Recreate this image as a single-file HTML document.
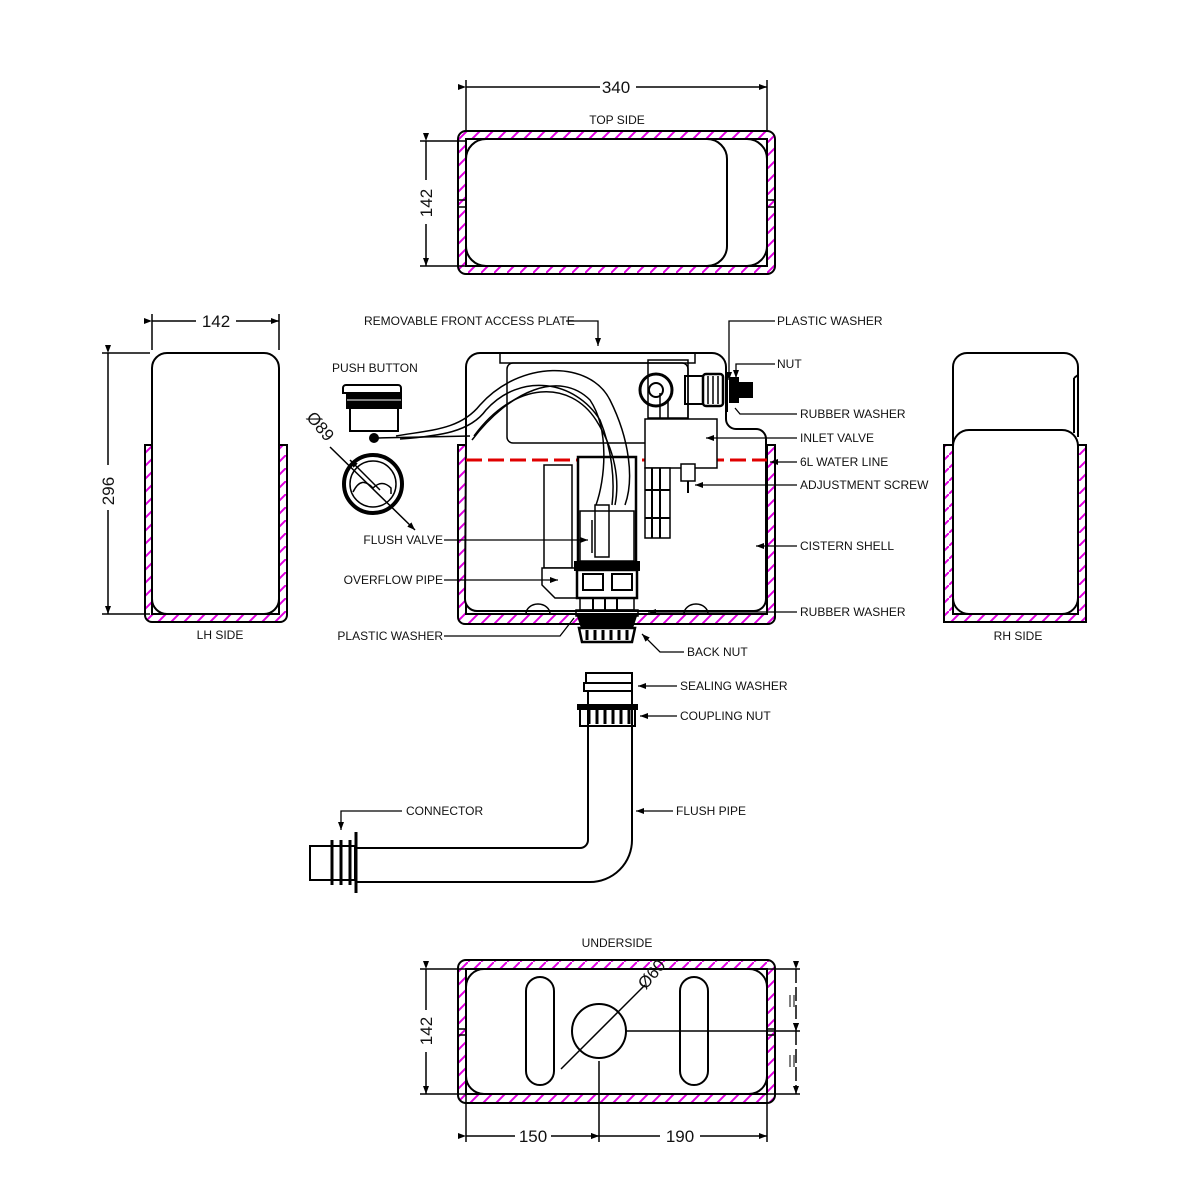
<!DOCTYPE html>
<html><head><meta charset="utf-8"><style>
html,body{margin:0;padding:0;background:#fff}
svg{display:block}
text{font-family:"Liberation Sans",sans-serif;fill:#111}
.l{font-size:12px}
.d{font-size:17px}
</style></head><body>
<svg width="1200" height="1200" viewBox="0 0 1200 1200" xmlns="http://www.w3.org/2000/svg">
<defs>
<pattern id="h" width="13" height="13" patternUnits="userSpaceOnUse">
<path d="M-2,15 L15,-2" stroke="#e000e0" stroke-width="2"/>
</pattern>
<marker id="a" markerWidth="8" markerHeight="6" refX="8" refY="3" orient="auto" markerUnits="userSpaceOnUse"><path d="M0,0 L8,3 L0,6z" fill="#000"/></marker>
</defs>
<g fill="none" stroke="#000" stroke-width="2">

<!-- TOP SIDE -->
<line x1="466" y1="80" x2="466" y2="131" stroke-width="1.5"/>
<line x1="767" y1="80" x2="767" y2="131" stroke-width="1.5"/>
<line x1="466" y1="87" x2="600" y2="87" stroke-width="1.5" marker-start="url(#a)"/>
<line x1="636" y1="87" x2="767" y2="87" stroke-width="1.5" marker-end="url(#a)"/>
<rect x="458" y="131" width="317" height="143" rx="8" fill="url(#h)"/>
<rect x="466" y="139" width="301" height="127" fill="#fff"/>
<path d="M458,200 h8 M458,207 h8 M767,200 h8 M767,207 h8" stroke-width="1.5"/>
<rect x="466" y="139" width="261" height="127" rx="20" fill="#fff"/>
<path d="M727,139 h20 a20,20 0 0 1 20,20 v87 a20,20 0 0 1 -20,20 h-20"/>
<line x1="420" y1="141" x2="466" y2="141" stroke-width="1.5"/>
<line x1="420" y1="266" x2="466" y2="266" stroke-width="1.5"/>
<line x1="426" y1="141" x2="426" y2="180" stroke-width="1.5" marker-start="url(#a)"/>
<line x1="426" y1="224" x2="426" y2="266" stroke-width="1.5" marker-end="url(#a)"/>

<!-- LH SIDE -->
<line x1="152" y1="314" x2="152" y2="350" stroke-width="1.5"/>
<line x1="279" y1="314" x2="279" y2="350" stroke-width="1.5"/>
<line x1="152" y1="321" x2="196" y2="321" stroke-width="1.5" marker-start="url(#a)"/>
<line x1="236" y1="321" x2="279" y2="321" stroke-width="1.5" marker-end="url(#a)"/>
<line x1="102" y1="353" x2="150" y2="353" stroke-width="1.5"/>
<line x1="102" y1="614" x2="150" y2="614" stroke-width="1.5"/>
<line x1="108" y1="353" x2="108" y2="465" stroke-width="1.5" marker-start="url(#a)"/>
<line x1="108" y1="510" x2="108" y2="614" stroke-width="1.5" marker-end="url(#a)"/>
<path d="M145,445 h7 v169 h127 v-169 h8 v170 a7,7 0 0 1 -7,7 h-128 a7,7 0 0 1 -7,-7z" fill="url(#h)"/>
<rect x="152" y="353" width="127" height="261" rx="15" fill="#fff"/>

<!-- RH SIDE -->
<path d="M944,445 h9 v169 h125 v-169 h8 v177 h-142z" fill="url(#h)"/>
<path d="M953,445 v-78 a14,14 0 0 1 14,-14 h97 a14,14 0 0 1 14,14 v70" fill="#fff"/>
<path d="M1074,378 v55 M1078,375 l-4,3"/>
<rect x="953" y="430" width="125" height="184" rx="16" fill="#fff"/>

<!-- MAIN CISTERN -->
<path d="M458,445 h8 v169 h301 v-169 h8 v172 a7,7 0 0 1 -7,7 h-303 a7,7 0 0 1 -7,-7z" fill="url(#h)"/>
<path d="M466,445 v-78 a14,14 0 0 1 14,-14 h232 a14,14 0 0 1 14,14 v52 a10,10 0 0 0 10,10 h20 a10,10 0 0 1 10,10 v160 a12,12 0 0 1 -12,12 h-277 a12,12 0 0 1 -12,-12z" fill="#fff"/>
<path d="M526,614 a12,10 0 0 1 24,0 M684,614 a12,10 0 0 1 24,0" stroke-width="1.5"/>
<rect x="500" y="353" width="195" height="10" stroke-width="1.5"/>
<rect x="507" y="363" width="181" height="80" rx="6" stroke-width="1.5"/>
<line x1="466" y1="460" x2="767" y2="460" stroke="#e00000" stroke-width="3" stroke-dasharray="16,6"/>
<rect x="544" y="465" width="28" height="103" fill="#fff" stroke-width="1.5"/>
<path d="M542,568 h35 v30 h-22 l-13,-13z" fill="#fff" stroke-width="1.5"/>
<rect x="578" y="457" width="58" height="105" fill="#fff" stroke-width="2.5"/>
<rect x="580" y="511" width="54" height="50" stroke-width="1.5"/>
<rect x="595" y="505" width="14" height="52" stroke-width="1.5"/>
<line x1="592" y1="520" x2="592" y2="553" stroke-width="1.5"/>
<rect x="575" y="562" width="64" height="8" fill="#000"/>
<rect x="577" y="570" width="60" height="28" stroke-width="2.5"/>
<rect x="583" y="574" width="20" height="16" stroke-width="2"/>
<rect x="612" y="574" width="20" height="16" stroke-width="2"/>
<rect x="580" y="598" width="54" height="12" stroke-width="1.5"/>
<path d="M593,598 v12 M605,598 v12 M617,598 v12"/>
<rect x="576" y="610" width="62" height="6" stroke-width="1.5"/>
<path d="M578,616 h58 l-4,12 h-50z" fill="#000"/>
<path d="M579,628 h56 l-3,14 h-50z" fill="#fff" stroke-width="2.5"/>
<path d="M587,630 v10 M595,630 v10 M603,630 v10 M611,630 v10 M619,630 v10 M627,630 v10" stroke-width="3"/>
<path d="M396,436 C430,430 460,430 480,405 C520,360 590,360 610,400 C630,440 634,480 625,505" stroke-width="1.5"/>
<path d="M400,439 C440,436 470,432 486,410 C520,372 575,380 600,420 C612,450 615,480 612,505" stroke-width="1.5"/>
<path d="M472,440 C510,390 560,370 590,400 C610,430 605,480 596,505" stroke-width="1.5"/>
<path d="M474,436 C515,380 570,380 596,420 C615,450 620,480 615,505" stroke-width="1.5"/>
<rect x="645" y="419" width="72" height="49" fill="#fff" stroke-width="1.5"/>
<rect x="645" y="468" width="25" height="70" fill="#fff" stroke-width="1.5"/>
<path d="M652,468 v70 M660,468 v70 M645,490 h25 M645,518 h25"/>
<rect x="681" y="464" width="14" height="17" fill="#fff" stroke-width="1.5"/>
<line x1="688" y1="481" x2="688" y2="493" stroke-width="2"/>
<rect x="648" y="360" width="40" height="58" stroke-width="1.5"/>
<circle cx="656" cy="390" r="16" stroke-width="3"/>
<circle cx="656" cy="390" r="7" fill="#fff" stroke-width="2"/>
<path d="M660,393 v25 M668,400 v18" stroke-width="1.5"/>
<rect x="685" y="376" width="18" height="28" stroke-width="2"/>
<rect x="703" y="374" width="20" height="32" rx="3" stroke-width="2.5"/>
<path d="M708,376 v28 M713,376 v28 M718,376 v28" stroke-width="1.5"/>
<rect x="730" y="378" width="8" height="24" fill="#000"/>
<rect x="738" y="383" width="14" height="14" fill="#000"/>
<line x1="727" y1="372" x2="727" y2="412" stroke-width="2"/>

<!-- push button -->
<path d="M343,393 v-5 a3,3 0 0 1 3,-3 h52 a3,3 0 0 1 3,3 v5z" fill="#fff" stroke-width="2"/>
<rect x="347" y="393" width="54" height="15" fill="#000"/>
<line x1="347" y1="400" x2="401" y2="400" stroke="#fff" stroke-width="1"/>
<rect x="350" y="408" width="48" height="23" fill="#fff" stroke-width="2"/>
<circle cx="374" cy="438" r="5" fill="#000" stroke="none"/>
<path d="M378,438 L470,436" stroke-width="1.5"/>
<circle cx="373" cy="484" r="29" stroke-width="4"/>
<circle cx="373" cy="484" r="23" stroke-width="1.5"/>
<path d="M353,492 c6,-12 12,-12 20,-4 c6,-6 12,-6 18,0 v6" stroke-width="1.5"/>
<line x1="330" y1="447" x2="415" y2="530" stroke-width="1.5" marker-end="url(#a)"/>
<line x1="380" y1="490" x2="350" y2="460" stroke-width="1.5" marker-end="url(#a)"/>

<!-- flush pipe -->
<path d="M588,707 V840 a8,8 0 0 1 -8,8 H355" stroke-width="2"/>
<path d="M632,707 V840 a42,42 0 0 1 -42,42 H355" stroke-width="2"/>
<rect x="310" y="846" width="45" height="34" fill="#fff" stroke-width="2"/>
<path d="M332,840 v45 M341,840 v45 M350,840 v45" stroke-width="3"/>
<line x1="356" y1="832" x2="356" y2="893" stroke-width="3"/>
<rect x="586" y="673" width="46" height="10" stroke-width="2"/>
<path d="M584,683 h48 v8 h-48z" stroke-width="2"/>
<line x1="588" y1="691" x2="588" y2="705"/><line x1="632" y1="691" x2="632" y2="705"/>
<rect x="578" y="705" width="59" height="4" fill="#000"/>
<rect x="580" y="709" width="55" height="17" stroke-width="2"/>
<path d="M589,709 v15 M597,709 v15 M605,709 v15 M613,709 v15 M621,709 v15 M629,709 v15" stroke-width="3"/>

<!-- UNDERSIDE -->
<rect x="458" y="960" width="317" height="143" rx="8" fill="url(#h)"/>
<rect x="466" y="969" width="301" height="125" fill="#fff"/>
<path d="M458,1029 h8 M458,1035 h8 M767,1029 h8 M767,1035 h8" stroke-width="1.5"/>
<rect x="466" y="969" width="301" height="125" rx="18" fill="#fff"/>
<rect x="526" y="977" width="28" height="108" rx="14"/>
<rect x="680" y="977" width="28" height="108" rx="14"/>
<circle cx="599" cy="1031" r="27"/>
<line x1="561" y1="1069" x2="645" y2="985" stroke-width="1.5"/>
<line x1="626" y1="1031" x2="800" y2="1031" stroke-width="1.5"/>
<line x1="599" y1="1061" x2="599" y2="1142" stroke-width="1.5"/>
<line x1="466" y1="1094" x2="466" y2="1142" stroke-width="1.5"/>
<line x1="767" y1="1094" x2="767" y2="1142" stroke-width="1.5"/>
<line x1="466" y1="1136" x2="515" y2="1136" stroke-width="1.5" marker-start="url(#a)"/>
<line x1="551" y1="1136" x2="599" y2="1136" stroke-width="1.5" marker-end="url(#a)"/>
<line x1="599" y1="1136" x2="660" y2="1136" stroke-width="1.5" marker-start="url(#a)"/>
<line x1="700" y1="1136" x2="767" y2="1136" stroke-width="1.5" marker-end="url(#a)"/>
<line x1="420" y1="969" x2="466" y2="969" stroke-width="1.5"/>
<line x1="420" y1="1094" x2="466" y2="1094" stroke-width="1.5"/>
<line x1="426" y1="969" x2="426" y2="1010" stroke-width="1.5" marker-start="url(#a)"/>
<line x1="426" y1="1052" x2="426" y2="1094" stroke-width="1.5" marker-end="url(#a)"/>
<line x1="767" y1="969" x2="800" y2="969" stroke-width="1.5"/>
<line x1="767" y1="1094" x2="800" y2="1094" stroke-width="1.5"/>
<line x1="796" y1="969" x2="796" y2="1031" stroke-width="1.5" stroke-dasharray="14,4" marker-start="url(#a)" marker-end="url(#a)"/>
<line x1="796" y1="1031" x2="796" y2="1094" stroke-width="1.5" stroke-dasharray="14,4" marker-start="url(#a)" marker-end="url(#a)"/>
<path d="M790,995 v12 M794,995 v12 M790,1055 v12 M794,1055 v12" stroke-width="1"/>

<!-- leaders -->
<g stroke-width="1.3">
<path d="M566,321 H598 V346" marker-end="url(#a)"/>
<path d="M775,321 H729 V380" marker-end="url(#a)"/>
<path d="M775,364 H736 V378" marker-end="url(#a)"/>
<path d="M797,414 H740 L735,408"/>
<path d="M797,438 H706" marker-end="url(#a)"/>
<path d="M797,462 H770" marker-end="url(#a)"/>
<path d="M797,485 H695" marker-end="url(#a)"/>
<path d="M797,546 H756" marker-end="url(#a)"/>
<path d="M797,612 H648" marker-end="url(#a)"/>
<path d="M444,540 H588" marker-end="url(#a)"/>
<path d="M444,580 H558" marker-end="url(#a)"/>
<path d="M444,636 H560 L574,618"/>
<path d="M684,652 H660 L642,634" marker-end="url(#a)"/>
<path d="M677,686 H638" marker-end="url(#a)"/>
<path d="M677,716 H640" marker-end="url(#a)"/>
<path d="M673,811 H636" marker-end="url(#a)"/>
<path d="M402,811 H341 V830" marker-end="url(#a)"/>
</g>
</g>

<text class="d" x="616" y="93" text-anchor="middle">340</text>
<text class="l" x="617" y="124" text-anchor="middle">TOP SIDE</text>
<text class="d" transform="translate(432,203) rotate(-90)" text-anchor="middle">142</text>
<text class="d" x="216" y="327" text-anchor="middle">142</text>
<text class="d" transform="translate(114,491) rotate(-90)" text-anchor="middle">296</text>
<text class="l" x="220" y="639" text-anchor="middle">LH SIDE</text>
<text class="l" x="1018" y="640" text-anchor="middle">RH SIDE</text>
<text class="l" x="364" y="325">REMOVABLE FRONT ACCESS PLATE</text>
<text class="l" x="332" y="372">PUSH BUTTON</text>
<text class="d" transform="translate(316,430) rotate(50)" text-anchor="middle">Ø89</text>
<text class="l" x="777" y="325">PLASTIC WASHER</text>
<text class="l" x="777" y="368">NUT</text>
<text class="l" x="800" y="418">RUBBER WASHER</text>
<text class="l" x="800" y="442">INLET VALVE</text>
<text class="l" x="800" y="466">6L WATER LINE</text>
<text class="l" x="800" y="489">ADJUSTMENT SCREW</text>
<text class="l" x="800" y="550">CISTERN SHELL</text>
<text class="l" x="800" y="616">RUBBER WASHER</text>
<text class="l" x="443" y="544" text-anchor="end">FLUSH VALVE</text>
<text class="l" x="443" y="584" text-anchor="end">OVERFLOW PIPE</text>
<text class="l" x="443" y="640" text-anchor="end">PLASTIC WASHER</text>
<text class="l" x="687" y="656">BACK NUT</text>
<text class="l" x="680" y="690">SEALING WASHER</text>
<text class="l" x="680" y="720">COUPLING NUT</text>
<text class="l" x="676" y="815">FLUSH PIPE</text>
<text class="l" x="406" y="815">CONNECTOR</text>
<text class="l" x="617" y="947" text-anchor="middle">UNDERSIDE</text>
<text class="d" transform="translate(656,978) rotate(-50)" text-anchor="middle">Ø60</text>
<text class="d" transform="translate(432,1031) rotate(-90)" text-anchor="middle">142</text>
<text class="d" x="533" y="1142" text-anchor="middle">150</text>
<text class="d" x="680" y="1142" text-anchor="middle">190</text>
</svg>
</body></html>
